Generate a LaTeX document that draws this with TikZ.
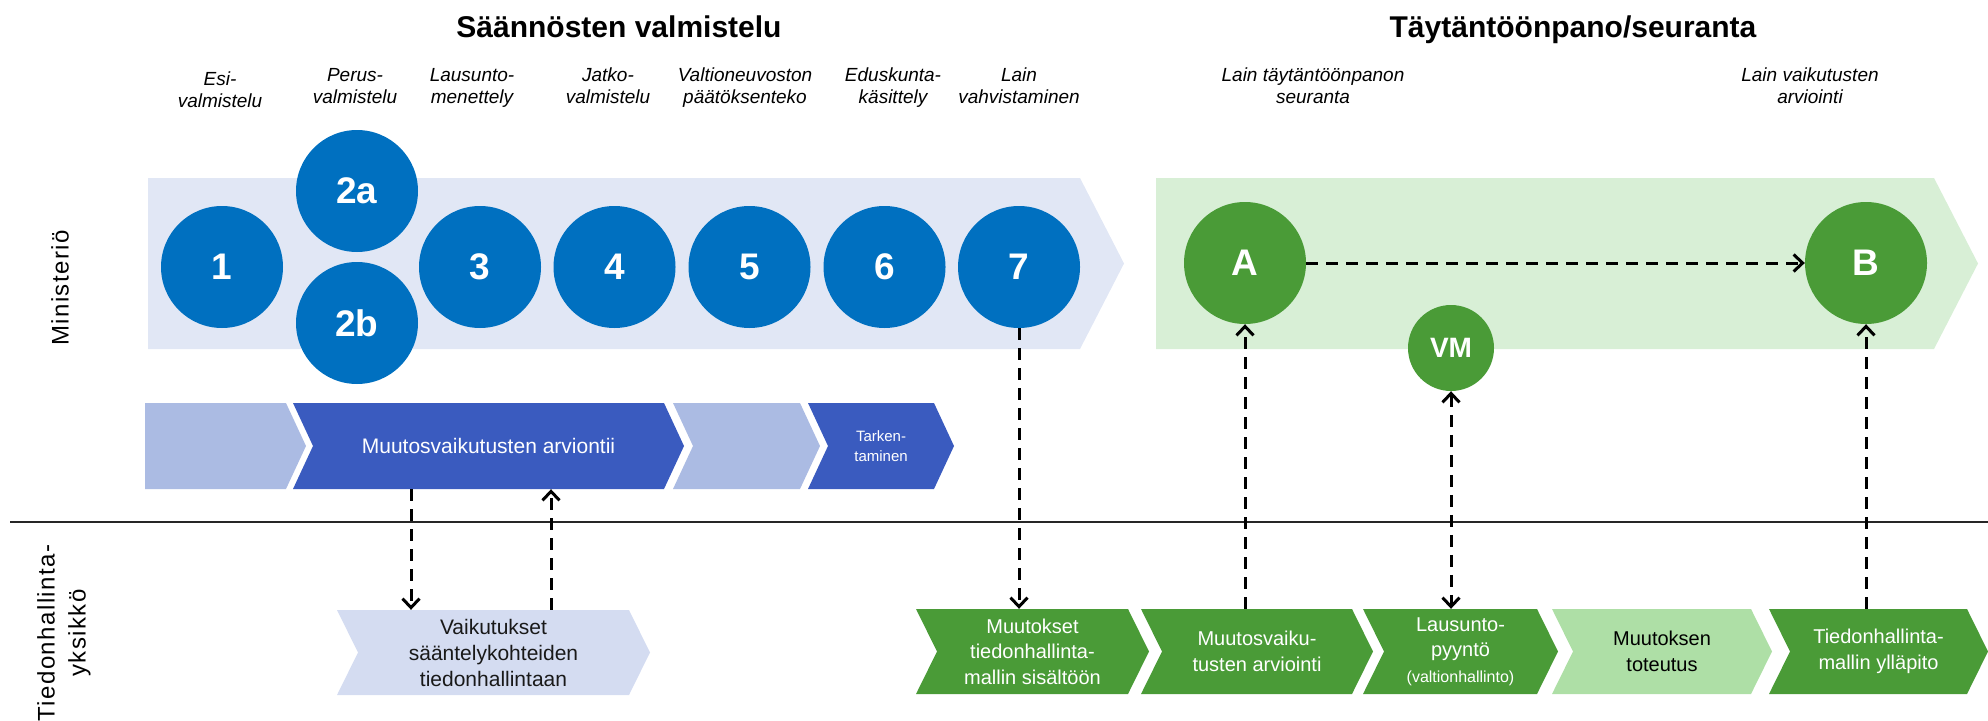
\documentclass[tikz,border=0pt]{standalone}
\usepackage{fontspec}
\setmainfont{Liberation Sans}
\newfontfamily\sidefont[LetterSpace=6]{Liberation Sans}
\usetikzlibrary{arrows.meta}

\definecolor{bandblue}{HTML}{E1E7F5}
\definecolor{ballblue}{HTML}{0070C0}
\definecolor{chevdark}{HTML}{3A5BBF}
\definecolor{chevlight}{HTML}{ABBBE3}
\definecolor{vaikfill}{HTML}{D4DCF1}
\definecolor{bandgreen}{HTML}{D8EFD6}
\definecolor{ballgreen}{HTML}{4A9B37}
\definecolor{lightgreen}{HTML}{AEDFA6}

\def\dep{20}
\def\nch{\dep}
% chevron: name, fill, left, right, top, bottom, text options, text
\newcommand\chev[8]{%
  \fill[#2] (#3,#5) -- (#4,#5) -- ({#4+\dep},{(#5+#6)/2}) -- (#4,#6) -- (#3,#6)
    -- ({#3+\nch},{(#5+#6)/2}) -- cycle;
  \node[chevtext,#7,minimum width={(#4-#3)*1pt},minimum height={(#6-#5)*1pt}] (#1)
    at ({(#3+#4+\dep)/2},{(#5+#6)/2}) {#8};}

\begin{document}
\begin{tikzpicture}[x=1pt,y=-1pt,
  title/.style={font=\bfseries\fontsize{30}{34}\selectfont,anchor=base,inner sep=0pt},
  stage/.style={font=\itshape\fontsize{19}{22}\selectfont,align=center,anchor=north,inner sep=0pt},
  ball/.style={circle,fill=ballblue,text=white,minimum size=122pt,inner sep=0pt,
    font=\bfseries\fontsize{37}{40}\selectfont},
  chevtext/.style={inner sep=0pt,align=center,font=\fontsize{20}{25.5}\selectfont},
  lowtext/.style={text=white},
  side/.style={rotate=90,align=center,font=\sidefont\fontsize{24}{31}\selectfont},
  >={Straight Barb[length=9pt,width=17pt]},
  dashar/.style={line width=3pt,dash pattern=on 12pt off 8pt,->}]
\useasboundingbox (0,0) rectangle (1988,720);

% titles and stage names
\node[title] (t1) at (619,37) {Säännösten valmistelu};
\node[title] (t2) at (1573,37) {Täytäntöönpano/seuranta};
\node[stage] (l1) at (220,72) {Esi-\\valmistelu};
\node[stage] (l2) at (355,68) {Perus-\\valmistelu};
\node[stage] (l3) at (472,68) {Lausunto-\\menettely};
\node[stage] (l4) at (608,68) {Jatko-\\valmistelu};
\node[stage] (l5) at (745,68) {Valtioneuvoston\\päätöksenteko};
\node[stage] (l6) at (893,68) {Eduskunta-\\käsittely};
\node[stage] (l7) at (1019,68) {Lain\\vahvistaminen};
\node[stage] (l8) at (1313,68) {Lain täytäntöönpanon\\seuranta};
\node[stage] (l9) at (1810,68) {Lain vaikutusten\\arviointi};

% side labels and separator
\node[side] (min) at (60,288) {Ministeriö};
\node[side] (tdh) at (64,633) {Tiedonhallinta-\\yksikkö};
\draw[line width=2.5pt,draw=black!85] (10,522) -- (1988,522);

% big bands
\fill[bandblue] (148,178) -- (1080,178) -- (1124,263.5) -- (1080,349) -- (148,349) -- cycle;
\fill[bandgreen] (1156,178) -- (1934,178) -- (1978,263.5) -- (1934,349) -- (1156,349) -- cycle;

% chevron rows
{\def\nch{0}\chev{k1}{chevlight}{145}{286}{403}{489}{}{}}
\chev{k2}{chevdark}{293}{664}{403}{489}{text=white,font=\fontsize{21}{25}\selectfont}{Muutosvaikutusten arviontii}
\chev{k3}{chevlight}{673}{800}{403}{489}{}{}
\chev{k4}{chevdark}{808}{934}{403}{489}{text=white,font=\fontsize{15}{20}\selectfont}{Tarken-\\taminen}
\def\dep{21}
\chev{vaik}{vaikfill}{337}{629}{610}{695}{text=black!90,font=\fontsize{21}{26}\selectfont}{Vaikutukset\\sääntelykohteiden\\tiedonhallintaan}
\chev{b1}{ballgreen}{916}{1128}{609}{694}{lowtext}{Muutokset\\tiedonhallinta-\\mallin sisältöön}
\chev{b2}{ballgreen}{1141}{1352}{609}{694}{lowtext}{Muutosvaiku-\\tusten arviointi}
\chev{b3}{ballgreen}{1363}{1537}{609}{694}{lowtext}{Lausunto-\\pyyntö\\{\fontsize{16}{18}\selectfont(valtionhallinto)}}
\chev{b4}{lightgreen}{1552}{1751}{609}{694}{text=black}{Muutoksen\\toteutus}
\chev{b5}{ballgreen}{1769}{1967}{609}{694}{lowtext}{Tiedonhallinta-\\mallin ylläpito}

% circles
\node[ball] (c1) at (222,267) {1};
\node[ball] (c2a) at (357,191) {2a};
\node[ball] (c2b) at (357,323) {2b};
\node[ball] (c3) at (480,267) {3};
\node[ball] (c4) at (614.5,267) {4};
\node[ball] (c5) at (749.5,267) {5};
\node[ball] (c6) at (884.5,267) {6};
\node[ball] (c7) at (1019,267) {7};
\node[ball,fill=ballgreen] (A) at (1245,263) {A};
\node[ball,fill=ballgreen] (B) at (1866,263) {B};
\node[ball,fill=ballgreen,minimum size=86pt,font=\bfseries\fontsize{28}{30}\selectfont] (VM) at (1451,348) {VM};

% dashed links
\coordinate (p1) at (411,0);
\coordinate (p2) at (551,0);
\draw[dashar] (k2.south -| p1) -- (vaik.north -| p1);
\draw[dashar] (vaik.north -| p2) -- (k2.south -| p2);
\draw[dashar] (c7) -- (b1.north -| c7);
\draw[dashar] (b2.north -| A) -- (A);
\draw[dashar,<->] (VM) -- (b3.north -| VM);
\draw[dashar] (b5.north -| B) -- (B);
\draw[dashar] (A) -- (B);
\end{tikzpicture}
\end{document}
